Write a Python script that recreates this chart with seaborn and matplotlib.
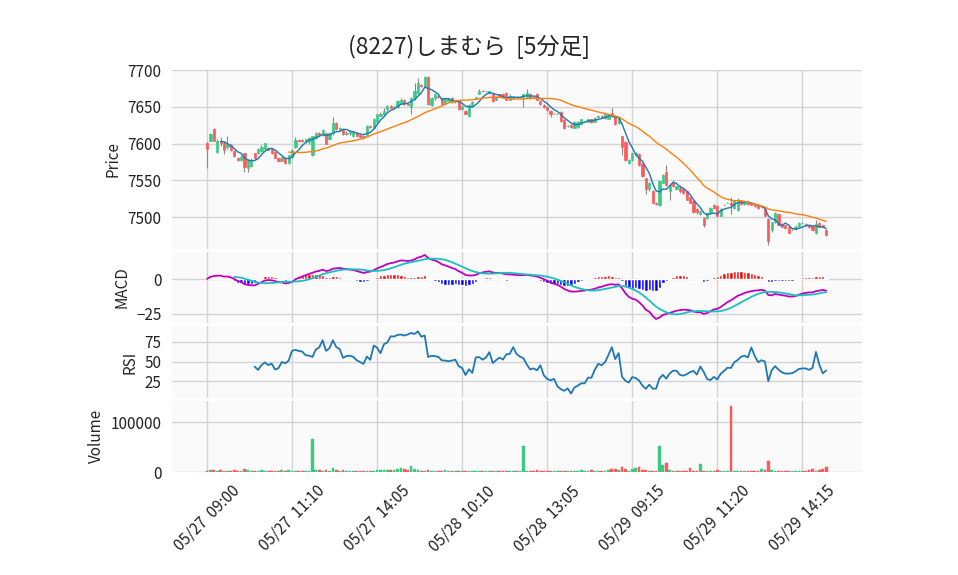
import numpy as np
import pandas as pd
import seaborn as sns
import matplotlib
matplotlib.use('Agg')
import matplotlib.pyplot as plt

# chart data (5-minute bars)
title = '(8227)しまむら  [5分足]'
tick_pos = [0, 25, 50, 75, 100, 125, 150, 175]
tick_labels = ['05/27  09:00', '05/27  11:10', '05/27  14:05', '05/28  10:10',
               '05/28  13:05', '05/29  09:15', '05/29  11:20', '05/29  14:15']

opens = [7601, 7604, 7620, 7589, 7603, 7601, 7596, 7598, 7590, 7581,
         7578, 7587, 7567, 7570, 7587, 7587, 7590, 7593, 7594, 7593,
         7589, 7580, 7577, 7580, 7574, 7582, 7596, 7605, 7605, 7603,
         7602, 7584, 7608, 7615, 7612, 7614, 7607, 7614, 7628, 7619,
         7620, 7613, 7614, 7610, 7614, 7612, 7611, 7612, 7624, 7622,
         7629, 7638, 7641, 7647, 7651, 7649, 7650, 7656, 7660, 7654,
         7650, 7662, 7669, 7680, 7678, 7691, 7653, 7662, 7665, 7662,
         7655, 7658, 7662, 7657, 7659, 7647, 7645, 7638, 7651, 7662,
         7668, 7672, 7671, 7669, 7667, 7660, 7667, 7668, 7669, 7660,
         7662, 7664, 7663, 7663, 7663, 7668, 7664, 7668, 7658, 7653,
         7650, 7645, 7641, 7641, 7643, 7632, 7624, 7626, 7622, 7623,
         7627, 7630, 7630, 7633, 7630, 7636, 7638, 7635, 7634, 7642,
         7638, 7628, 7610, 7602, 7574, 7578, 7584, 7586, 7573, 7553,
         7538, 7536, 7520, 7516, 7547, 7562, 7536, 7547, 7538, 7540,
         7539, 7535, 7527, 7522, 7511, 7504, 7499, 7499, 7506, 7517,
         7515, 7502, 7517, 7520, 7520, 7512, 7510, 7522, 7518, 7521,
         7520, 7517, 7516, 7514, 7511, 7498, 7482, 7493, 7504, 7491,
         7489, 7487, 7483, 7484, 7488, 7492, 7491, 7489, 7488, 7478,
         7492, 7489, 7483]
highs = [7602, 7615, 7621, 7606, 7609, 7603, 7611, 7600, 7591, 7582,
         7584, 7588, 7579, 7580, 7588, 7594, 7598, 7601, 7595, 7594,
         7590, 7581, 7583, 7581, 7585, 7593, 7609, 7606, 7607, 7607,
         7609, 7611, 7616, 7616, 7620, 7615, 7615, 7636, 7629, 7623,
         7622, 7617, 7618, 7617, 7616, 7613, 7612, 7625, 7625, 7635,
         7641, 7643, 7648, 7652, 7653, 7651, 7660, 7662, 7661, 7656,
         7663, 7682, 7689, 7681, 7692, 7692, 7663, 7668, 7666, 7664,
         7662, 7662, 7663, 7660, 7660, 7652, 7646, 7654, 7658, 7664,
         7674, 7673, 7672, 7672, 7668, 7665, 7668, 7669, 7670, 7667,
         7665, 7665, 7664, 7668, 7675, 7669, 7665, 7669, 7659, 7654,
         7651, 7646, 7642, 7642, 7644, 7633, 7625, 7627, 7631, 7631,
         7634, 7631, 7634, 7634, 7636, 7639, 7639, 7641, 7640, 7648,
         7639, 7636, 7611, 7603, 7579, 7588, 7589, 7587, 7574, 7554,
         7548, 7537, 7521, 7550, 7559, 7571, 7546, 7550, 7543, 7544,
         7540, 7536, 7528, 7523, 7512, 7509, 7500, 7507, 7514, 7518,
         7516, 7512, 7518, 7521, 7527, 7524, 7526, 7523, 7522, 7522,
         7521, 7518, 7517, 7515, 7512, 7499, 7494, 7507, 7505, 7492,
         7490, 7488, 7484, 7489, 7493, 7493, 7492, 7490, 7489, 7496,
         7493, 7490, 7484]
lows = [7567, 7603, 7603, 7588, 7597, 7586, 7593, 7590, 7582, 7577,
        7576, 7561, 7562, 7568, 7579, 7586, 7589, 7592, 7591, 7586,
        7580, 7576, 7576, 7573, 7572, 7581, 7594, 7602, 7602, 7601,
        7600, 7583, 7606, 7611, 7611, 7599, 7605, 7612, 7619, 7618,
        7612, 7612, 7612, 7609, 7610, 7608, 7607, 7610, 7622, 7621,
        7628, 7637, 7640, 7645, 7648, 7648, 7649, 7655, 7653, 7652,
        7640, 7660, 7667, 7677, 7677, 7653, 7651, 7660, 7662, 7653,
        7654, 7657, 7656, 7655, 7646, 7646, 7640, 7636, 7650, 7661,
        7667, 7670, 7670, 7668, 7657, 7659, 7664, 7662, 7659, 7659,
        7661, 7662, 7662, 7650, 7662, 7661, 7662, 7659, 7653, 7649,
        7645, 7636, 7640, 7640, 7630, 7620, 7623, 7622, 7621, 7622,
        7626, 7629, 7629, 7628, 7629, 7635, 7635, 7634, 7633, 7636,
        7626, 7627, 7584, 7576, 7572, 7577, 7583, 7570, 7555, 7531,
        7536, 7519, 7516, 7515, 7546, 7543, 7524, 7541, 7537, 7533,
        7532, 7523, 7519, 7506, 7505, 7503, 7486, 7498, 7505, 7511,
        7501, 7501, 7516, 7519, 7505, 7511, 7509, 7517, 7517, 7517,
        7516, 7514, 7511, 7513, 7501, 7462, 7480, 7492, 7488, 7486,
        7484, 7478, 7482, 7483, 7487, 7491, 7488, 7485, 7481, 7477,
        7486, 7486, 7475]
closes = [7593, 7613, 7604, 7603, 7601, 7592, 7600, 7592, 7583, 7578,
          7582, 7568, 7578, 7578, 7580, 7593, 7596, 7601, 7592, 7587,
          7581, 7577, 7582, 7574, 7584, 7592, 7605, 7603, 7603, 7606,
          7608, 7610, 7614, 7612, 7619, 7600, 7614, 7628, 7620, 7621,
          7613, 7615, 7616, 7616, 7611, 7609, 7609, 7624, 7623, 7633,
          7640, 7641, 7645, 7651, 7649, 7650, 7658, 7660, 7654, 7653,
          7662, 7671, 7682, 7678, 7691, 7654, 7662, 7667, 7663, 7654,
          7661, 7661, 7657, 7659, 7647, 7651, 7641, 7653, 7657, 7663,
          7672, 7671, 7671, 7671, 7658, 7664, 7665, 7663, 7660, 7665,
          7664, 7663, 7663, 7667, 7669, 7662, 7663, 7660, 7654, 7650,
          7646, 7641, 7641, 7641, 7631, 7622, 7624, 7623, 7630, 7630,
          7633, 7630, 7633, 7629, 7635, 7638, 7636, 7640, 7639, 7637,
          7627, 7635, 7596, 7578, 7578, 7587, 7588, 7571, 7556, 7538,
          7547, 7520, 7518, 7549, 7558, 7544, 7544, 7542, 7542, 7536,
          7533, 7524, 7520, 7507, 7507, 7508, 7489, 7506, 7513, 7512,
          7502, 7511, 7517, 7520, 7516, 7522, 7524, 7518, 7521, 7518,
          7517, 7515, 7512, 7514, 7502, 7467, 7493, 7506, 7489, 7487,
          7485, 7479, 7483, 7486, 7492, 7492, 7489, 7486, 7482, 7491,
          7487, 7487, 7476]
volumes = [3000, 4500, 3500, 2500, 4000, 2500, 2000, 3000, 4500, 2500,
           2000, 5500, 3500, 2500, 2000, 2500, 4500, 2000, 2500, 2000,
           1500, 2000, 4000, 2500, 4500, 3000, 2000, 1500, 2000, 2500,
           2000, 67000, 4500, 5000, 3000, 5000, 3000, 7500, 4000, 2500,
           3500, 2000, 1500, 2500, 2000, 2000, 1500, 2500, 3000, 2500,
           4000, 3500, 5000, 4000, 3500, 4500, 5500, 8000, 6000, 5000,
           12000, 7000, 4500, 3000, 2000, 3500, 2000, 2500, 1500, 2000,
           3500, 2000, 1500, 2500, 2000, 1500, 3000, 2000, 1500, 1500,
           2000, 1500, 1500, 1500, 2500, 1500, 1500, 2000, 1500, 1500,
           1500, 1500, 1500, 52000, 2000, 2500, 1500, 4000, 2000, 2000,
           1500, 2000, 1500, 1500, 2000, 2500, 1500, 1500, 2000, 2500,
           4000, 2000, 2000, 4000, 2500, 2000, 1500, 3000, 4500, 6000,
           5500, 4000, 9500, 5500, 2000, 7000, 8000, 10000, 4000, 4000,
           2000, 3000, 2500, 52000, 15000, 19000, 3500, 2000, 2000, 2500,
           2000, 2500, 8000, 2500, 2000, 16000, 3000, 2000, 2500, 2500,
           4000, 3000, 2000, 2500, 134000, 3000, 2500, 2000, 2000, 2500,
           2000, 2500, 2000, 7000, 4000, 22000, 4500, 2500, 2000, 2000,
           2500, 2000, 1500, 2000, 2500, 2000, 2000, 4000, 6000, 3000,
           4000, 6000, 10000]

UP = '#3dc985'
DOWN = '#fd5b5b'


def build_frame():
    df = pd.DataFrame({'Open': opens, 'High': highs, 'Low': lows,
                       'Close': closes, 'Volume': volumes})
    df['idx'] = np.arange(len(df))
    df['MA5'] = df['Close'].rolling(5).mean()
    df['MA25'] = df['Close'].rolling(25).mean()
    ema12 = df['Close'].ewm(span=12, adjust=False).mean()
    ema26 = df['Close'].ewm(span=26, adjust=False).mean()
    df['MACD'] = ema12 - ema26
    df['Signal'] = df['MACD'].rolling(9).mean()
    df['Hist'] = df['MACD'] - df['Signal']
    diff = df['Close'].diff()
    gain = diff.clip(lower=0).rolling(14).mean()
    loss = (-diff.clip(upper=0)).rolling(14).mean()
    df['RSI'] = 100 - 100 / (1 + gain / loss)
    return df


def style_axis(ax):
    ax.set_facecolor('#fafafa')
    ax.grid(True, color='#d3d3d3', linewidth=1.0)
    ax.set_axisbelow(True)
    for s in ax.spines.values():
        s.set_visible(False)
    ax.tick_params(axis='both', length=4, width=0.8, color='#333333',
                   labelsize=11, labelcolor='#222222')
    ax.set_xlim(-10.3, 192.6)
    ax.set_xticks(tick_pos)


def main():
    sns.set_theme(style='whitegrid')
    plt.rcParams['font.family'] = ['Noto Sans CJK JP', 'DejaVu Sans']
    plt.rcParams['axes.unicode_minus'] = True

    df = build_frame()
    x = df['idx'].values
    up = (df['Close'] >= df['Open']).values
    colors = np.where(up, UP, DOWN)

    fig = plt.figure(figsize=(9.58, 5.75), dpi=100)
    gs = fig.add_gridspec(4, 1, height_ratios=[5, 2, 2, 2], left=0.1795,
                          right=0.9, top=0.878, bottom=0.179, hspace=0.03)
    ax_p = fig.add_subplot(gs[0])
    ax_m = fig.add_subplot(gs[1], sharex=ax_p)
    ax_r = fig.add_subplot(gs[2], sharex=ax_p)
    ax_v = fig.add_subplot(gs[3], sharex=ax_p)
    for ax in (ax_p, ax_m, ax_r, ax_v):
        style_axis(ax)

    # price panel: candles + moving averages
    ax_p.vlines(x, df['Low'], df['High'], color='#8a8a8a', linewidth=0.8,
                zorder=2)
    body = (df['Close'] - df['Open']).abs()
    bottom = np.minimum(df['Open'], df['Close'])
    ax_p.bar(x, body, bottom=bottom, width=0.65, color=colors,
             edgecolor=colors, linewidth=0.5, zorder=3)
    sns.lineplot(x=x, y=df['MA5'], ax=ax_p, color='#1f77b4', linewidth=1.0,
                 zorder=4)
    sns.lineplot(x=x, y=df['MA25'], ax=ax_p, color='#ff7f0e', linewidth=1.0,
                 zorder=4)
    ax_p.set_ylim(7457, 7700)
    ax_p.set_yticks([7500, 7550, 7600, 7650, 7700])
    ax_p.set_ylabel('Price', fontsize=11)

    # MACD panel
    hcol = np.where(df['Hist'] >= 0, 'red', 'blue')
    ax_m.bar(x, df['Hist'].fillna(0), width=1.0, color=hcol, zorder=2)
    sns.lineplot(x=x, y=df['MACD'], ax=ax_m, color='#c000c0', linewidth=1.3,
                 zorder=3)
    sns.lineplot(x=x, y=df['Signal'], ax=ax_m, color='#1cbfbf',
                 linewidth=1.3, zorder=3)
    ax_m.set_ylim(-31.8, 19.6)
    ax_m.set_yticks([-25, 0])
    ax_m.set_ylabel('MACD', fontsize=11)

    # RSI panel
    sns.lineplot(x=x, y=df['RSI'], ax=ax_r, color='#1f77b4', linewidth=1.3)
    ax_r.set_ylim(4, 95)
    ax_r.set_yticks([25, 50, 75])
    ax_r.set_ylabel('RSI', fontsize=11)

    # volume panel
    ax_v.bar(x, df['Volume'], width=0.8, color=colors, edgecolor=colors,
             linewidth=0.3, zorder=2)
    ax_v.set_ylim(0, 144000)
    ax_v.set_yticks([0, 100000])
    ax_v.set_ylabel('Volume', fontsize=11)

    for ax in (ax_p, ax_m, ax_r):
        ax.tick_params(axis='x', labelbottom=False, length=0)
        ax.set_xlabel('')
    ax_v.set_xticklabels(tick_labels, rotation=45, ha='center')
    ax_v.set_xlabel('')

    fig.suptitle(title, x=0.49, y=0.94, fontsize=16.5)
    fig.savefig('out.png', dpi=100)


if __name__ == '__main__':
    main()
